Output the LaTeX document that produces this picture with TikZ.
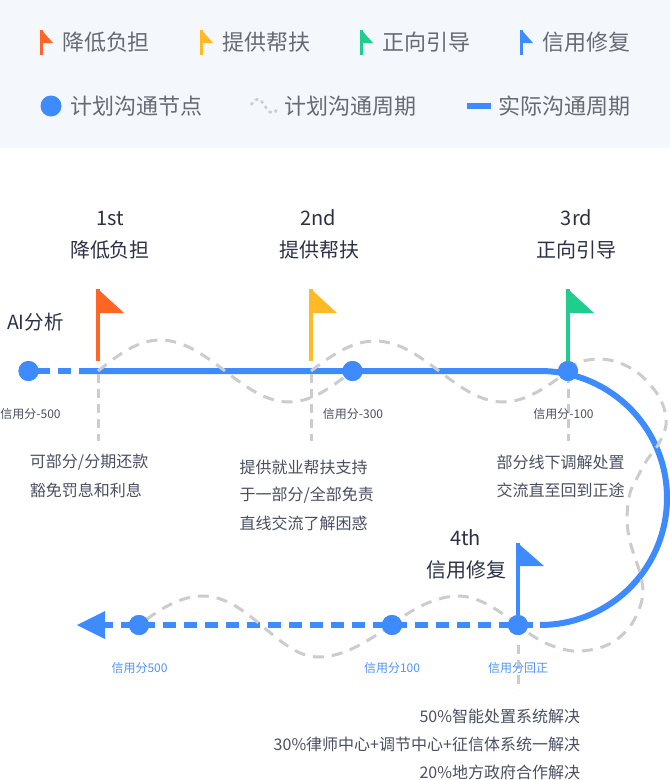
\documentclass[tikz,border=0pt]{standalone}
\usepackage{fontspec}
\setmainfont{Noto Sans CJK SC}
\definecolor{bandbg}{HTML}{F4F7FC}
\definecolor{cblue}{HTML}{3D8BFF}
\definecolor{corange}{HTML}{FF6626}
\definecolor{cyellow}{HTML}{FFBA26}
\definecolor{cgreen}{HTML}{21CC8F}
\definecolor{cgray}{HTML}{CCCCCC}
\definecolor{legendtxt}{HTML}{666B73}
\definecolor{titletxt}{HTML}{2C3147}
\definecolor{bodytxt}{HTML}{4A4F63}
\definecolor{smallblue}{HTML}{4D94FF}
\tikzset{
  x=1pt,y=-1pt,
  txt/.style={inner sep=0pt,outer sep=0pt},
  legendlabel/.style={txt,anchor=west,text=legendtxt,font=\fontsize{22}{24}\selectfont},
  titlelabel/.style={txt,text=titletxt,font=\fontsize{20}{24}\selectfont},
  bodylabel/.style={txt,anchor=west,text=bodytxt,font=\fontsize{16}{20}\selectfont},
  bodyright/.style={txt,anchor=east,text=bodytxt,font=\fontsize{16}{20}\selectfont},
  scorelabel/.style={txt,anchor=center,text=bodytxt,font=\fontsize{12}{14}\selectfont},
  scoreblue/.style={txt,anchor=center,text=smallblue,font=\fontsize{12}{14}\selectfont},
  dotnode/.style={circle,fill=cblue,draw=none,minimum size=20pt,inner sep=0pt,outer sep=0pt},
  bluesolid/.style={draw=cblue,line width=6pt},
  bluedash/.style={draw=cblue,line width=6pt,dash pattern=on 13pt off 8pt},
  wave/.style={draw=cgray,line width=3pt,dash pattern=on 11pt off 8pt},
  drop/.style={draw=cgray,line width=3pt,dash pattern=on 9pt off 6pt},
}
\begin{document}
\begin{tikzpicture}
\useasboundingbox (0,0) rectangle (670,780);
\fill[white] (0,0) rectangle (670,780);
\fill[bandbg] (0,0) rectangle (670,148);

% legend row 1
\fill[corange] (40,30) rectangle (42.5,55);
\fill[corange] (42.5,31) -- (53,43) -- (42.5,43) -- cycle;
\node[legendlabel] (l1) at (62,42) {降低负担};
\fill[cyellow] (200,30) rectangle (202.5,55);
\fill[cyellow] (202.5,31) -- (213,43) -- (202.5,43) -- cycle;
\node[legendlabel] (l2) at (222,42) {提供帮扶};
\fill[cgreen] (360,30) rectangle (362.5,55);
\fill[cgreen] (362.5,31) -- (373,43) -- (362.5,43) -- cycle;
\node[legendlabel] (l3) at (382,42) {正向引导};
\fill[cblue] (520,30) rectangle (522.5,55);
\fill[cblue] (522.5,31) -- (533,43) -- (522.5,43) -- cycle;
\node[legendlabel] (l4) at (542,42) {信用修复};

% legend row 2
\node[dotnode,minimum size=21pt] (ld) at (51,106) {};
\node[legendlabel] (l5) at (70.5,106) {计划沟通节点};
\draw[cgray,line width=2.5pt,dash pattern=on 3pt off 3.5pt] (251,105) .. controls (254,100) and (257,98) .. (260,100) .. controls (264,103) and (268,113) .. (272,113) .. controls (275,113) and (277,110) .. (278,107);
\node[legendlabel] (l6) at (284.5,106) {计划沟通周期};
\fill[cblue] (467,103) rectangle (491,109);
\node[legendlabel] (l7) at (498.5,106) {实际沟通周期};

% anchors
\coordinate (d1) at (98,371);
\coordinate (d2) at (311,371);
\coordinate (d1e) at (98,441);
\coordinate (d2e) at (311,441);
\coordinate (d3e) at (568,441);
\coordinate (d4s) at (518,645);
\coordinate (d4e) at (518,690);
\coordinate (bs) at (79,371);
\coordinate (be) at (540,371);
\coordinate (bb) at (540,625);
\coordinate (bd) at (533,625);
\coordinate (bt) at (105,625);

% main nodes
\node[dotnode] (n1) at (28.5,371) {};
\node[dotnode] (n2) at (352.5,371) {};
\node[dotnode] (n3) at (568,371) {};
\node[dotnode] (n4) at (518,625) {};
\node[dotnode] (n5) at (392,625) {};
\node[dotnode] (n6) at (139,625) {};

% blue line
\draw[bluesolid] (n1.center) -- (50,371) (58,371) -- (71,371);
\draw[bluesolid] (bs) -- (be) arc[start angle=-90,end angle=90,radius=127,y=-1pt,x=1pt] -- (bb);
\draw[bluedash] (bd) -- (bt);
\fill[cblue] (77,625) -- (105,611) -- (105,639) -- cycle;

% dashed drops
\draw[drop] (d1) ++(0,3) -- (d1e);
\draw[drop] (d2) ++(0,3) -- (d2e);
\draw[drop] (n3.center) ++(0,3) -- (d3e);
\draw[drop] (d4s) -- (d4e);

% gray waves
\draw[wave] (d1) .. controls (118,355) and (137.5,340) .. (160,340)
  .. controls (183.5,340) and (204,355) .. (225,371)
  .. controls (246,387) and (266,402) .. (289,402)
  .. controls (312,402) and (331.5,387) .. (n2.center);
\draw[wave] (d2) .. controls (332,355) and (352,341) .. (375,341)
  .. controls (398,341) and (418,355) .. (439,371)
  .. controls (460,387) and (480,402) .. (503,402)
  .. controls (526,402) and (547,387) .. (n3.center);
\draw[wave] plot[smooth,tension=0.6] coordinates {(568,371) (580,362) (600,359) (620,363) (638,373) (653,388) (663,405) (666,425) (658,445) (647,460) (637,478) (630,493) (627,517) (629,537) (634,555) (640,573) (643,593) (638,612) (628,629) (613,642) (595,649) (573,651) (550,645) (533,636) (518,625)};
\draw[wave] (n4.center) .. controls (497,609) and (478,596) .. (458,596)
  .. controls (437,596) and (411,609) .. (n5.center);
\draw[wave] (n5.center) .. controls (367,641) and (345,657) .. (318,657)
  .. controls (298,657) and (280,641) .. (261,625)
  .. controls (242,609) and (224,596) .. (203,596)
  .. controls (180,596) and (160,609) .. (n6.center);

% nodes on top
\node[dotnode] at (n1) {};
\node[dotnode] at (n2) {};
\node[dotnode] at (n4) {};
\node[dotnode] at (n5) {};
\node[dotnode] at (n6) {};

% flags
\fill[corange] (96,289) rectangle (100,361);
\fill[corange] (100,291) -- (124,313) -- (100,313) -- cycle;
\fill[cyellow] (309,289) rectangle (313,361);
\fill[cyellow] (313,291) -- (337,313) -- (313,313) -- cycle;
\fill[cgreen] (566,289) rectangle (570,371);
\fill[cgreen] (570,291) -- (594,313) -- (570,313) -- cycle;
\node[dotnode] at (n3) {};
\fill[cblue] (516,543) rectangle (520,625);
\fill[cblue] (520,545) -- (544,566) -- (520,566) -- cycle;

% titles
\node[txt,anchor=west,text=titletxt,font=\fontsize{19.5}{24}\selectfont] (ai) at (7,322) {AI分析};
\node[titlelabel] (t1a) at (110.5,218) {1st};
\node[titlelabel] (t1b) at (110,250) {降低负担};
\node[titlelabel] (t2a) at (318.5,218) {2nd};
\node[titlelabel] (t2b) at (319,250) {提供帮扶};
\node[titlelabel] (t3a) at (576.5,218) {3rd};
\node[titlelabel] (t3b) at (576,250) {正向引导};
\node[titlelabel] (t4a) at (465.5,538) {4th};
\node[titlelabel] (t4b) at (466,570) {信用修复};

% scores
\node[scorelabel] (s1) at (30.5,414) {信用分-500};
\node[scorelabel] (s2) at (353,414) {信用分-300};
\node[scorelabel] (s3) at (563.5,414) {信用分-100};
\node[scoreblue] (s4) at (139.5,668) {信用分500};
\node[scoreblue] (s5) at (392,668) {信用分100};
\node[scoreblue] (s6) at (518,668) {信用分回正};

% body text
\node[bodylabel] (b1) at (30,462) {可部分/分期还款};
\node[bodylabel] (b2) at (30,490) {豁免罚息和利息};
\node[bodylabel] (b3) at (239.5,467) {提供就业帮扶支持};
\node[bodylabel] (b4) at (239.5,495) {于一部分/全部免责};
\node[bodylabel] (b5) at (239.5,523) {直线交流了解困惑};
\node[bodylabel] (b6) at (496.5,462) {部分线下调解处置};
\node[bodylabel] (b7) at (496.5,490) {交流直至回到正途};
\node[bodyright] (b8) at (580,716) {50\%智能处置系统解决};
\node[bodyright] (b9) at (580,744) {30\%律师中心+调节中心+征信体系统一解决};
\node[bodyright] (b10) at (580,772) {20\%地方政府合作解决};
\end{tikzpicture}
\end{document}
